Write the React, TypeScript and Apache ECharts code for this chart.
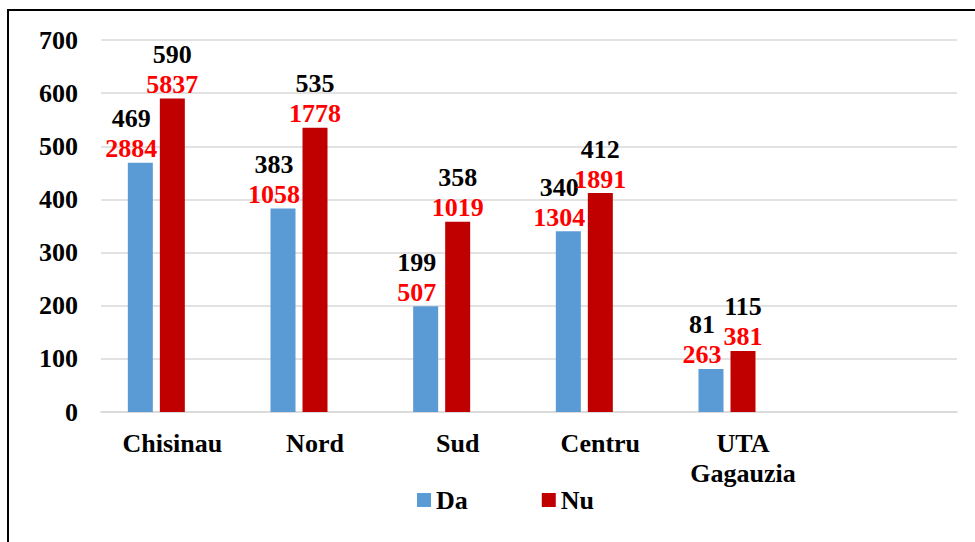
import React, { useEffect, useRef } from "react";
import * as echarts from "echarts";

const categories = ["Chisinau", "Nord", "Sud", "Centru", "UTA\nGagauzia", ""];
const daValues = [469, 383, 199, 340, 81, null];
const nuValues = [590, 535, 358, 412, 115, null];
const daExtra = [2884, 1058, 507, 1304, 263, null];
const nuExtra = [5837, 1778, 1019, 1891, 381, null];
const spacerValues = [null, null, null, null, null, null];
const yTicks = { min: 0, max: 700, interval: 100 };

const FONT = "Liberation Serif";

export default function App() {
  const ref = useRef<HTMLDivElement>(null);
  useEffect(() => {
    if (!ref.current) return;
    const chart = echarts.init(ref.current, undefined, { renderer: "svg" });
    const richStyle = {
      a: { color: "#000000", fontSize: 26, fontWeight: "bold", fontFamily: FONT, lineHeight: 36 },
      b: { color: "#FF0000", fontSize: 26, fontWeight: "bold", fontFamily: FONT, lineHeight: 24 },
    };
    const makeLabel = (extra: (number | null)[], offset: number[]) => ({
      show: true,
      position: "top",
      distance: 2,
      offset,
      fontFamily: FONT,
      formatter: (p: any) => `{a|${p.value}}\n{b|${extra[p.dataIndex]}}`,
      rich: richStyle,
    });
    chart.setOption({
      animation: false,
      backgroundColor: "#ffffff",
      textStyle: { fontFamily: FONT },
      graphic: [
        {
          type: "rect",
          shape: { x: 8, y: 10, width: 1000, height: 600 },
          style: { fill: "none", stroke: "#000000", lineWidth: 2 },
          silent: true,
        },
      ],
      grid: { left: 101, right: 18, top: 40, bottom: 130, containLabel: false },
      legend: {
        data: ["Da", "Nu"],
        left: 412,
        top: 482,
        itemWidth: 14,
        itemHeight: 14,
        itemGap: 74,
        icon: "rect",
        textStyle: { fontSize: 26, fontWeight: "bold", fontFamily: FONT, color: "#000" },
      },
      xAxis: {
        type: "category",
        data: categories,
        axisTick: { show: false },
        axisLine: { lineStyle: { color: "#d9d9d9", width: 1.5 } },
        axisLabel: {
          interval: 0,
          color: "#000",
          fontSize: 26,
          fontWeight: "bold",
          fontFamily: FONT,
          margin: 16,
          lineHeight: 30,
        },
      },
      yAxis: {
        type: "value",
        min: yTicks.min,
        max: yTicks.max,
        interval: yTicks.interval,
        axisLine: { show: false },
        axisTick: { show: false },
        splitLine: { lineStyle: { color: "#d9d9d9", width: 1.5 } },
        axisLabel: {
          color: "#000",
          fontSize: 26,
          fontWeight: "bold",
          fontFamily: FONT,
          margin: 23,
        },
      },
      series: [
        {
          name: "Da",
          type: "bar",
          data: daValues,
          barWidth: 25,
          barGap: "28%",
          itemStyle: { color: "#5B9BD5" },
          label: makeLabel(daExtra, [-9, 0]),
        },
        {
          name: "Nu",
          type: "bar",
          data: nuValues,
          barWidth: 25,
          barGap: "28%",
          itemStyle: { color: "#C00000" },
          label: makeLabel(nuExtra, [0, 0]),
        },
        {
          name: "spacer",
          type: "bar",
          data: spacerValues,
          barWidth: 25,
          barGap: "28%",
          itemStyle: { color: "transparent" },
        },
      ],
    });
    return () => chart.dispose();
  }, []);
  return (
    <div
      ref={ref}
      style={{ position: "absolute", left: 0, top: 0, width: 975, height: 542 }}
    />
  );
}
